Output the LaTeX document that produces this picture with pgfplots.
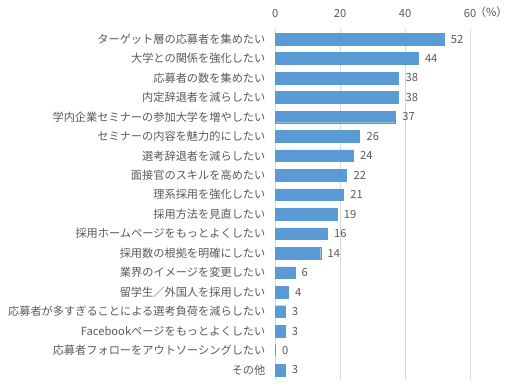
\documentclass[border=0pt]{standalone}
\usepackage{fontspec}
\setmainfont{Noto Sans CJK JP}
\usepackage{pgfplots}
\pgfplotsset{compat=1.18}
\definecolor{barblue}{HTML}{5B9BD5}
\definecolor{txtgray}{HTML}{595959}
\definecolor{gridgray}{HTML}{D9D9D9}
\begin{document}
\fontsize{11.2bp}{13bp}\selectfont
\begin{tikzpicture}[x=1bp,y=1bp]
\useasboundingbox (0,0) rectangle (519,391);
\begin{axis}[
  at={(275.3bp,11.3bp)}, anchor=south west,
  scale only axis, width=194.7bp, height=350.4bp,
  xbar, bar width=11.7bp,
  xmin=0, xmax=60, ymin=-0.5, ymax=17.5,
  xtick={0,20,40,60}, xticklabel pos=upper,
  ytick={0,...,17},
  yticklabels={その他,応募者フォローをアウトソーシングしたい,Facebookページをもっとよくしたい,応募者が多すぎることによる選考負荷を減らしたい,留学生／外国人を採用したい,業界のイメージを変更したい,採用数の根拠を明確にしたい,採用ホームページをもっとよくしたい,採用方法を見直したい,理系採用を強化したい,面接官のスキルを高めたい,選考辞退者を減らしたい,セミナーの内容を魅力的にしたい,学内企業セミナーの参加大学を増やしたい,内定辞退者を減らしたい,応募者の数を集めたい,大学との関係を強化したい,ターゲット層の応募者を集めたい},
  axis line style={draw=none},
  major tick length=0pt,
  xmajorgrids, grid style={gridgray, line width=0.75bp},
  /pgf/number format/assume math mode=true,
  tick label style={text=txtgray, font=\fontsize{11.2bp}{13bp}\selectfont},
  yticklabel style={xshift=-6bp},
  xticklabel style={anchor=south, yshift=8bp},
  nodes near coords,
  nodes near coords style={text=txtgray, font=\fontsize{11.2bp}{13bp}\selectfont, xshift=3bp},
  clip=false,
]
\addplot[fill=barblue, draw=barblue, line width=0.4bp] coordinates {
(52,17) (44,16) (38,15) (38,14) (37,13) (26,12) (24,11) (22,10) (21,9)
(19,8) (16,7) (14,6) (6,5) (4,4) (3,3) (3,2) (0,1) (3,0)
};
\node[anchor=south west, text=txtgray, font=\fontsize{11.2bp}{13bp}\selectfont] at ([xshift=1bp,yshift=8bp]rel axis cs:1,1) {（\%）};
\end{axis}
\end{tikzpicture}
\end{document}
